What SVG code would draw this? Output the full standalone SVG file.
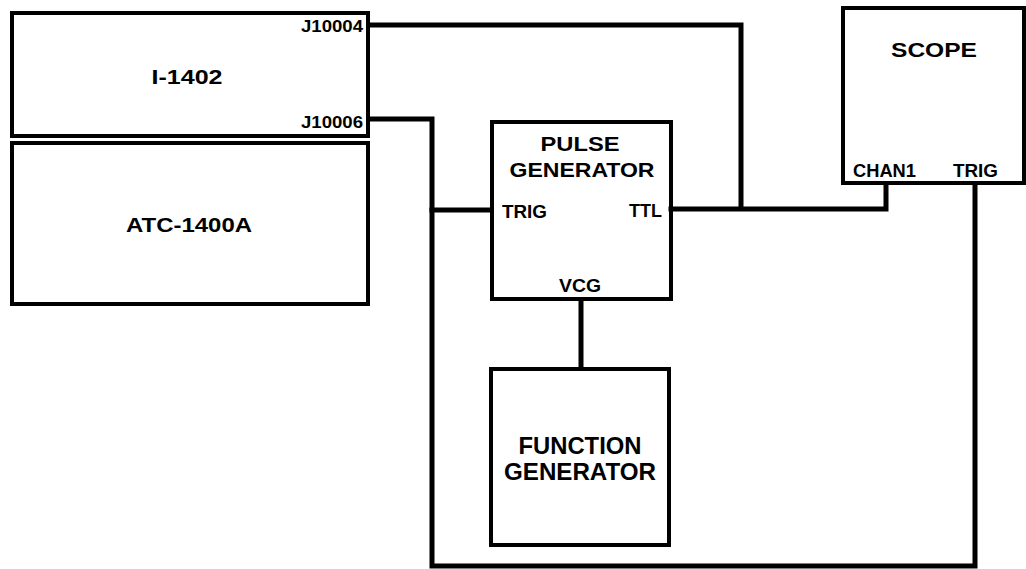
<svg xmlns="http://www.w3.org/2000/svg" width="1026" height="569" viewBox="0 0 1026 569">
<style>
.box{fill:none;stroke:#000;stroke-width:4}
.wire{fill:none;stroke:#000;stroke-width:5;stroke-linejoin:miter;stroke-linecap:square}
text{font-family:"Liberation Sans",Arial,sans-serif;font-weight:bold;fill:#000}
.t{font-size:21px;text-anchor:middle}
.p{font-size:18px}
.j{font-size:16px;text-anchor:end}
</style>
<rect width="1026" height="569" fill="#fff"/>
<g id="connectors">
<polyline class="wire" points="370,25 741,25 741,208"/>
<polyline class="wire" points="671,209 886,209 886,184"/>
<polyline class="wire" points="370,119 432,119 432,566 975,566 975,184"/>
<polyline class="wire" points="432,210 491,210"/>
<polyline class="wire" points="581,300 581,368"/>
</g>
<g id="i1402">
<rect class="box" x="12" y="13" width="356" height="123"/>
<text class="t" x="187" y="84" textLength="71" lengthAdjust="spacingAndGlyphs">I-1402</text>
<text class="j" x="363" y="32" textLength="62" lengthAdjust="spacingAndGlyphs">J10004</text>
<text class="j" x="363" y="128" textLength="62" lengthAdjust="spacingAndGlyphs">J10006</text>
</g>
<g id="atc1400a">
<rect class="box" x="12" y="143" width="356" height="161"/>
<text class="t" x="189" y="232" textLength="126" lengthAdjust="spacingAndGlyphs">ATC-1400A</text>
</g>
<g id="pulse-generator">
<rect class="box" x="492" y="122" width="179" height="177"/>
<text class="t" x="580" y="151" textLength="79" lengthAdjust="spacingAndGlyphs">PULSE</text>
<text class="t" x="582" y="177" textLength="145" lengthAdjust="spacingAndGlyphs">GENERATOR</text>
<text class="p" x="502" y="218" textLength="45" lengthAdjust="spacingAndGlyphs">TRIG</text>
<text class="p" x="629" y="217" textLength="33" lengthAdjust="spacingAndGlyphs">TTL</text>
<text class="p" x="559" y="292" textLength="42" lengthAdjust="spacingAndGlyphs">VCG</text>
</g>
<g id="function-generator">
<rect class="box" x="491" y="369" width="178" height="176"/>
<text class="t" x="580" y="454" style="font-size:23px" textLength="123" lengthAdjust="spacingAndGlyphs">FUNCTION</text>
<text class="t" x="580" y="480" style="font-size:23px" textLength="152" lengthAdjust="spacingAndGlyphs">GENERATOR</text>
</g>
<g id="scope">
<rect class="box" x="843" y="8" width="181" height="175"/>
<text class="t" x="934" y="57" textLength="86" lengthAdjust="spacingAndGlyphs">SCOPE</text>
<text class="p" x="853" y="177" textLength="63" lengthAdjust="spacingAndGlyphs">CHAN1</text>
<text class="p" x="953" y="177" textLength="45" lengthAdjust="spacingAndGlyphs">TRIG</text>
</g>
</svg>
